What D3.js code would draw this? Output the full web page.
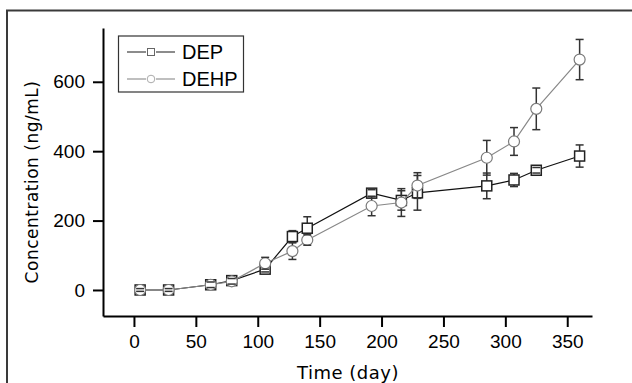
<!DOCTYPE html>
<html>
<head>
<meta charset="utf-8">
<script src="https://cdn.jsdelivr.net/npm/d3@7"></script>
<style>
  body { margin: 0; background: #fff; }
  svg { display: block; }
</style>
</head>
<body>
<svg id="chart" width="632" height="383"></svg>
<script>
// sampling days and concentrations (ng/mL)
const days = [5, 28, 62, 79, 106, 128, 140, 192, 216, 229, 285, 307, 325, 360];
const depValues  = [0, 0, 15, 27, 60, 154, 178, 279, 258, 280, 300, 317, 345, 386];
const depErrors  = [4, 4, 8, 8, 8, 17, 33, 10, 28, 50, 37, 19, 8, 32];
const dehpValues = [0, 0, 15, 25, 77, 112, 144, 242, 252, 301, 381, 428, 522, 664];
const dehpErrors = [4, 4, 8, 8, 17, 24, 15, 28, 40, 37, 50, 40, 60, 58];
const xMajorTicks = [0, 50, 100, 150, 200, 250, 300, 350];
const xMinorTicks = [-25, 25, 75, 125, 175, 225, 275, 325];
const yMajorTicks = [0, 200, 400, 600];
const yMinorTicks = [100, 300, 500, 700];

const series = [
  { name: "DEP", values: depValues, errors: depErrors, shape: "square", line: "#111", mark: "#222", legend: "#666" },
  { name: "DEHP", values: dehpValues, errors: dehpErrors, shape: "circle", line: "#888", mark: "#7a7a7a", legend: "#aaa" }
];

const svg = d3.select("#chart");

// outer frame (runs off the right and bottom edges)
svg.append("rect")
  .attr("x", 7).attr("y", 10.5)
  .attr("width", 700).attr("height", 500)
  .attr("fill", "none")
  .attr("stroke", "#3a3a3a")
  .attr("stroke-width", 2);

const x = d3.scaleLinear().domain([-25, 370]).range([103, 592]);
const y = d3.scaleLinear().domain([-75, 755]).range([316, 28]);

const tickFont = g => g.selectAll("text")
  .attr("fill", "#000")
  .style("font-family", "'Liberation Sans', Arial, sans-serif")
  .style("font-size", "19px");

// x axis
const gx = svg.append("g").attr("transform", "translate(0,316)");
gx.call(d3.axisBottom(x).tickValues(xMinorTicks).tickSize(7).tickSizeOuter(0).tickFormat(""));
gx.call(d3.axisBottom(x).tickValues(xMajorTicks).tickSize(11).tickSizeOuter(0).tickPadding(8));
gx.selectAll("path.domain").attr("stroke", "#000").attr("stroke-width", 2);
gx.selectAll("line").attr("stroke", "#000").attr("stroke-width", 2);
gx.call(tickFont);

// y axis
const gy = svg.append("g").attr("transform", "translate(103,0)");
gy.call(d3.axisLeft(y).tickValues(yMinorTicks).tickSize(6).tickSizeOuter(0).tickFormat(""));
gy.call(d3.axisLeft(y).tickValues(yMajorTicks).tickSize(10).tickSizeOuter(0).tickPadding(8));
gy.selectAll("path.domain").attr("stroke", "#000").attr("stroke-width", 2);
gy.selectAll("line").attr("stroke", "#000").attr("stroke-width", 2);
gy.call(tickFont);

// axis titles
svg.append("text")
  .attr("x", 348).attr("y", 379)
  .attr("text-anchor", "middle")
  .style("font-family", "'DejaVu Sans', sans-serif")
  .style("font-size", "18px")
  .style("letter-spacing", "0.5px")
  .text("Time (day)");

svg.append("text")
  .attr("transform", "translate(38,182) rotate(-90)")
  .attr("text-anchor", "middle")
  .style("font-family", "'DejaVu Sans', sans-serif")
  .style("font-size", "17px")
  .style("letter-spacing", "0.5px")
  .text("Concentration (ng/mL)");

const line = d3.line().x(d => x(d.t)).y(d => y(d.v));

series.forEach(s => {
  const pts = days.map((t, i) => ({ t, v: s.values[i], e: s.errors[i] }));
  const g = svg.append("g");

  g.append("path")
    .datum(pts)
    .attr("d", line)
    .attr("fill", "none")
    .attr("stroke", s.line)
    .attr("stroke-width", 1.2);

  // error bar stems
  g.selectAll(".stem").data(pts).enter().append("line")
    .attr("x1", d => x(d.t)).attr("x2", d => x(d.t))
    .attr("y1", d => y(d.v + d.e)).attr("y2", d => y(d.v - d.e))
    .attr("stroke", "#333").attr("stroke-width", 1.5);

  // markers
  if (s.shape === "square") {
    g.selectAll(".m").data(pts).enter().append("rect")
      .attr("x", d => x(d.t) - 5).attr("y", d => y(d.v) - 5)
      .attr("width", 10).attr("height", 10)
      .attr("fill", "#fff")
      .attr("stroke", s.mark).attr("stroke-width", 1.5);
  } else {
    g.selectAll(".m").data(pts).enter().append("circle")
      .attr("cx", d => x(d.t)).attr("cy", d => y(d.v))
      .attr("r", 5.5)
      .attr("fill", "#fff")
      .attr("stroke", s.mark).attr("stroke-width", 1.2);
  }

  // error bar caps
  const caps = pts.flatMap(d => [d.v + d.e, d.v - d.e].map(v => ({ t: d.t, v })));
  g.selectAll(".cap").data(caps).enter().append("line")
    .attr("x1", d => x(d.t) - 4).attr("x2", d => x(d.t) + 4)
    .attr("y1", d => y(d.v)).attr("y2", d => y(d.v))
    .attr("stroke", "#333").attr("stroke-width", 1.5);
});

// legend
const lg = svg.append("g");
lg.append("rect")
  .attr("x", 118.5).attr("y", 36)
  .attr("width", 125).attr("height", 56)
  .attr("fill", "#fff")
  .attr("stroke", "#333").attr("stroke-width", 1.2);

series.forEach((s, i) => {
  const ly = 52 + i * 27;
  lg.append("line").attr("x1", 127).attr("x2", 146).attr("y1", ly).attr("y2", ly)
    .attr("stroke", s.legend).attr("stroke-width", 1.5);
  lg.append("line").attr("x1", 156).attr("x2", 175).attr("y1", ly).attr("y2", ly)
    .attr("stroke", s.legend).attr("stroke-width", 1.5);
  if (s.shape === "square") {
    lg.append("rect").attr("x", 147.5).attr("y", ly - 3.5).attr("width", 7).attr("height", 7)
      .attr("fill", "#fff").attr("stroke", s.legend).attr("stroke-width", 1);
  } else {
    lg.append("circle").attr("cx", 151).attr("cy", ly).attr("r", 3.8)
      .attr("fill", "#fff").attr("stroke", s.legend).attr("stroke-width", 1);
  }
  lg.append("text")
    .attr("x", 182).attr("y", ly + 7)
    .style("font-family", "'Liberation Sans', Arial, sans-serif")
    .style("font-size", "20px")
    .text(s.name);
});
</script>
</body>
</html>
